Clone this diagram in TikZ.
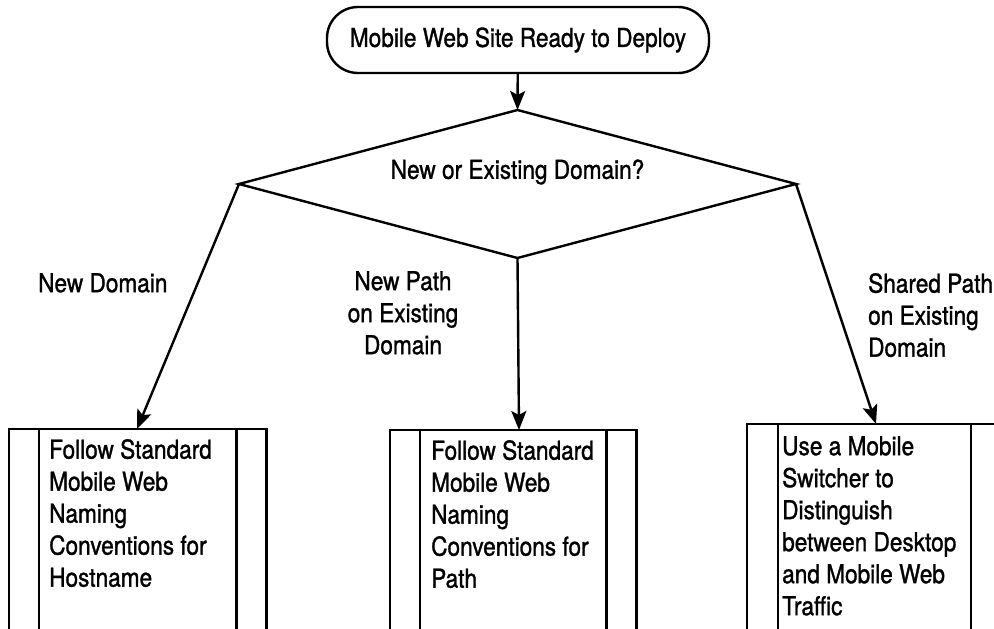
\documentclass[tikz,border=0pt]{standalone}
\usepackage{fontspec}
\setmainfont{TeX Gyre Heros}[FakeStretch=0.87,FakeBold=1.2]
\usetikzlibrary{shapes.geometric,arrows.meta,calc}
\tikzset{
  ln/.style={line width=2.4pt, draw=black},
  arr/.style={ln, -{Stealth[length=19pt,width=15pt,inset=4pt]}},
  term/.style={ln, rounded corners=31pt, minimum width=382pt, minimum height=66pt, inner sep=0pt},
  decis/.style={ln, diamond, minimum width=557pt, minimum height=148pt, inner sep=0pt, outer sep=0pt},
  txt/.style={font=\fontsize{26}{32}\selectfont, text=black, inner sep=0pt},
  area/.style={minimum width=#1, minimum height=230pt, inner sep=0pt, anchor=north west}
}
\begin{document}
\begin{tikzpicture}[x=1pt,y=-1pt]
\useasboundingbox (0,0) rectangle (994,629);
\clip (0,0) rectangle (994,629);
% start terminal
\node[term, txt, inner sep=0pt] (start) at (518,40) {Mobile Web Site Ready to Deploy};
% decision
\node[decis] (dec) at (517.5,184) {};
\node[txt] (dtext) at (517.5,172) {New or Existing Domain?};
% process areas
\node[area=257pt] (b1) at (9,429) {};
\node[area=246pt] (b2) at (390,430) {};
\node[area=260pt] (b3) at (747,424) {};
% box outlines (open at the bottom of the picture)
\draw[ln] (b1.south west) -- (b1.north west) -- (b1.north east) -- (b1.south east);
\draw[ln] ($(b1.north west)+(30,0)$) -- ($(b1.south west)+(30,0)$);
\draw[ln] ($(b1.north east)+(-30,0)$) -- ($(b1.south east)+(-30,0)$);
\draw[ln] (b2.south west) -- (b2.north west) -- (b2.north east) -- (b2.south east);
\draw[ln] ($(b2.north west)+(30,0)$) -- ($(b2.south west)+(30,0)$);
\draw[ln] ($(b2.north east)+(-30,0)$) -- ($(b2.south east)+(-30,0)$);
\draw[ln] (b3.south west) -- (b3.north west) -- (b3.north east) -- (b3.south east);
\draw[ln] ($(b3.north west)+(31,0)$) -- ($(b3.south west)+(31,0)$);
\draw[ln] ($(b3.north west)+(224,0)$) -- ($(b3.south west)+(224,0)$);
% box texts
\node[txt, anchor=north west, align=left] (t1) at (49,439) {Follow Standard\\Mobile Web\\Naming\\Conventions for\\Hostname};
\node[txt, anchor=north west, align=left] (t2) at (431,440) {Follow Standard\\Mobile Web\\Naming\\Conventions for\\Path};
\node[txt, anchor=north west, align=left] (t3) at (782,436) {Use a Mobile\\Switcher to\\Distinguish\\between Desktop\\and Mobile Web\\Traffic};
% connectors
\coordinate (b1in) at (137,429);
\coordinate (b2in) at (519,430);
\coordinate (b3in) at (876,424);
\draw[arr] (start) -- (dec.north);
\draw[arr] (dec.west) -- (b1in);
\draw[arr] (dec.south) -- (b2in);
\draw[arr] (dec.east) -- (b3in);
% branch labels
\node[txt, anchor=north west] (l1) at (38,273) {New Domain};
\node[txt, anchor=north, align=center] (l2) at (403,271) {New Path\\on Existing\\Domain};
\node[txt, anchor=north west, align=left] (l3) at (868,273) {Shared Path\\on Existing\\Domain};
\end{tikzpicture}
\end{document}
